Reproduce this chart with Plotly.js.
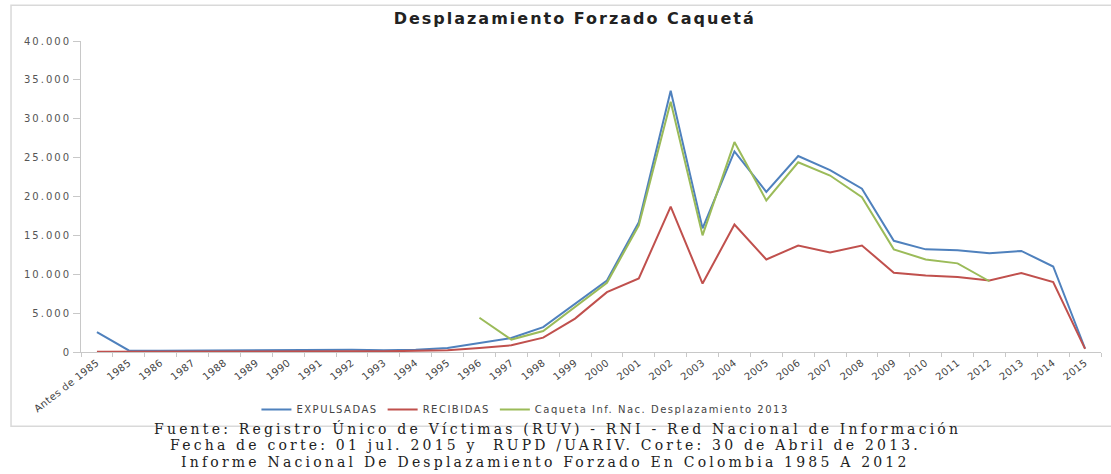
<!DOCTYPE html>
<html>
<head>
<meta charset="utf-8">
<script src="https://cdn.plot.ly/plotly-3.0.1.min.js"></script>
<style>
html,body{margin:0;padding:0;background:#fff;}
#chart{width:1111px;height:474px;}
text.annotation-text{letter-spacing:3.2px;}
text.legendtext{letter-spacing:1.5px;}
text.gtitle{letter-spacing:2px;}
.ytick text{letter-spacing:2px;}
.xtick text{letter-spacing:0.5px;}
</style>
</head>
<body>
<div id="chart"></div>
<script>
const categories = ["Antes de 1985","1985","1986","1987","1988","1989","1990","1991","1992","1993","1994","1995","1996","1997","1998","1999","2000","2001","2002","2003","2004","2005","2006","2007","2008","2009","2010","2011","2012","2013","2014","2015"];

const expulsadas = [2570,200,150,180,150,200,220,250,280,230,300,500,1160,1800,3200,6200,9200,16700,33600,15900,25800,20600,25200,23400,21000,14300,13200,13100,12700,13000,11000,450];

const recibidas = [30,50,60,70,60,70,80,90,100,90,110,220,500,860,1850,4300,7700,9450,18700,8800,16400,11900,13700,12800,13700,10200,9850,9650,9200,10150,9000,400];

const caqueta2013 = [null,null,null,null,null,null,null,null,null,null,null,null,4400,1600,2700,5800,8900,16300,32200,15000,27000,19500,24400,22700,19900,13200,11900,11400,9100,null,null,null];

const seriesNames = ["EXPULSADAS","RECIBIDAS","Caqueta Inf. Nac. Desplazamiento 2013"];
const chartTitle = "Desplazamiento Forzado Caquetá";
const footerLines = [
  "Fuente: Registro Único de Víctimas (RUV) - RNI - Red Nacional de Información",
  "Fecha de corte: 01 jul. 2015 y  RUPD /UARIV. Corte: 30 de Abril de 2013.",
  "Informe Nacional De Desplazamiento Forzado En Colombia 1985 A 2012"
];

const traces = [
  {x: categories, y: expulsadas, name: seriesNames[0], type: "scatter", mode: "lines",
   line: {color: "#4F81BD", width: 2}},
  {x: categories, y: recibidas, name: seriesNames[1], type: "scatter", mode: "lines",
   line: {color: "#C0504D", width: 2}},
  {x: categories, y: caqueta2013, name: seriesNames[2], type: "scatter", mode: "lines",
   line: {color: "#9BBB59", width: 2}}
];

const footerY = [-0.2444, -0.299, -0.3537];
const footerX = [0.467, 0.455, 0.455];
const annotations = footerLines.map((t, i) => ({
  text: t, xref: "paper", yref: "paper", x: footerX[i], y: footerY[i],
  xanchor: "center", yanchor: "middle", showarrow: false,
  font: {family: "DejaVu Serif", size: 14, color: "#222"}
}));

const layout = {
  width: 1111, height: 474,
  margin: {l: 81, r: 10, t: 41, b: 122},
  paper_bgcolor: "#fff", plot_bgcolor: "#fff",
  separators: ",.",
  showlegend: true,
  title: {text: "<b>" + chartTitle + "</b>", xref: "paper", x: 0.484, xanchor: "center",
          yref: "container", y: 0.962, yanchor: "middle",
          font: {family: "DejaVu Sans", size: 16, color: "#222"}},
  xaxis: {
    type: "category", range: [-0.5, 31.5], tickangle: -38,
    showgrid: false, zeroline: false, showline: true, linecolor: "#c8c8c8", linewidth: 1,
    ticks: "outside", tickson: "boundaries", ticklen: 4, tickcolor: "#c8c8c8",
    tickfont: {family: "DejaVu Sans", size: 10, color: "#444"}
  },
  yaxis: {
    range: [0, 40000], dtick: 5000, tickformat: ",d",
    showgrid: false, zeroline: false, showline: true, linecolor: "#c8c8c8", linewidth: 1,
    ticks: "outside", ticklen: 7, tickcolor: "#c8c8c8",
    tickfont: {family: "DejaVu Sans", size: 10, color: "#555"}
  },
  legend: {orientation: "h", x: 0.172, xanchor: "left", y: -0.185, yanchor: "middle",
           font: {family: "DejaVu Sans", size: 10, color: "#444"}, bgcolor: "rgba(0,0,0,0)"},
  shapes: [{type: "rect", xref: "paper", yref: "paper", x0: -0.0686, x1: 1.1, y0: -0.239, y1: 1.115,
            line: {color: "#d9d9d9", width: 1.5}, fillcolor: "rgba(0,0,0,0)", layer: "below"}],
  annotations: annotations
};

Plotly.newPlot("chart", traces, layout, {displayModeBar: false, staticPlot: true});
</script>
</body>
</html>
